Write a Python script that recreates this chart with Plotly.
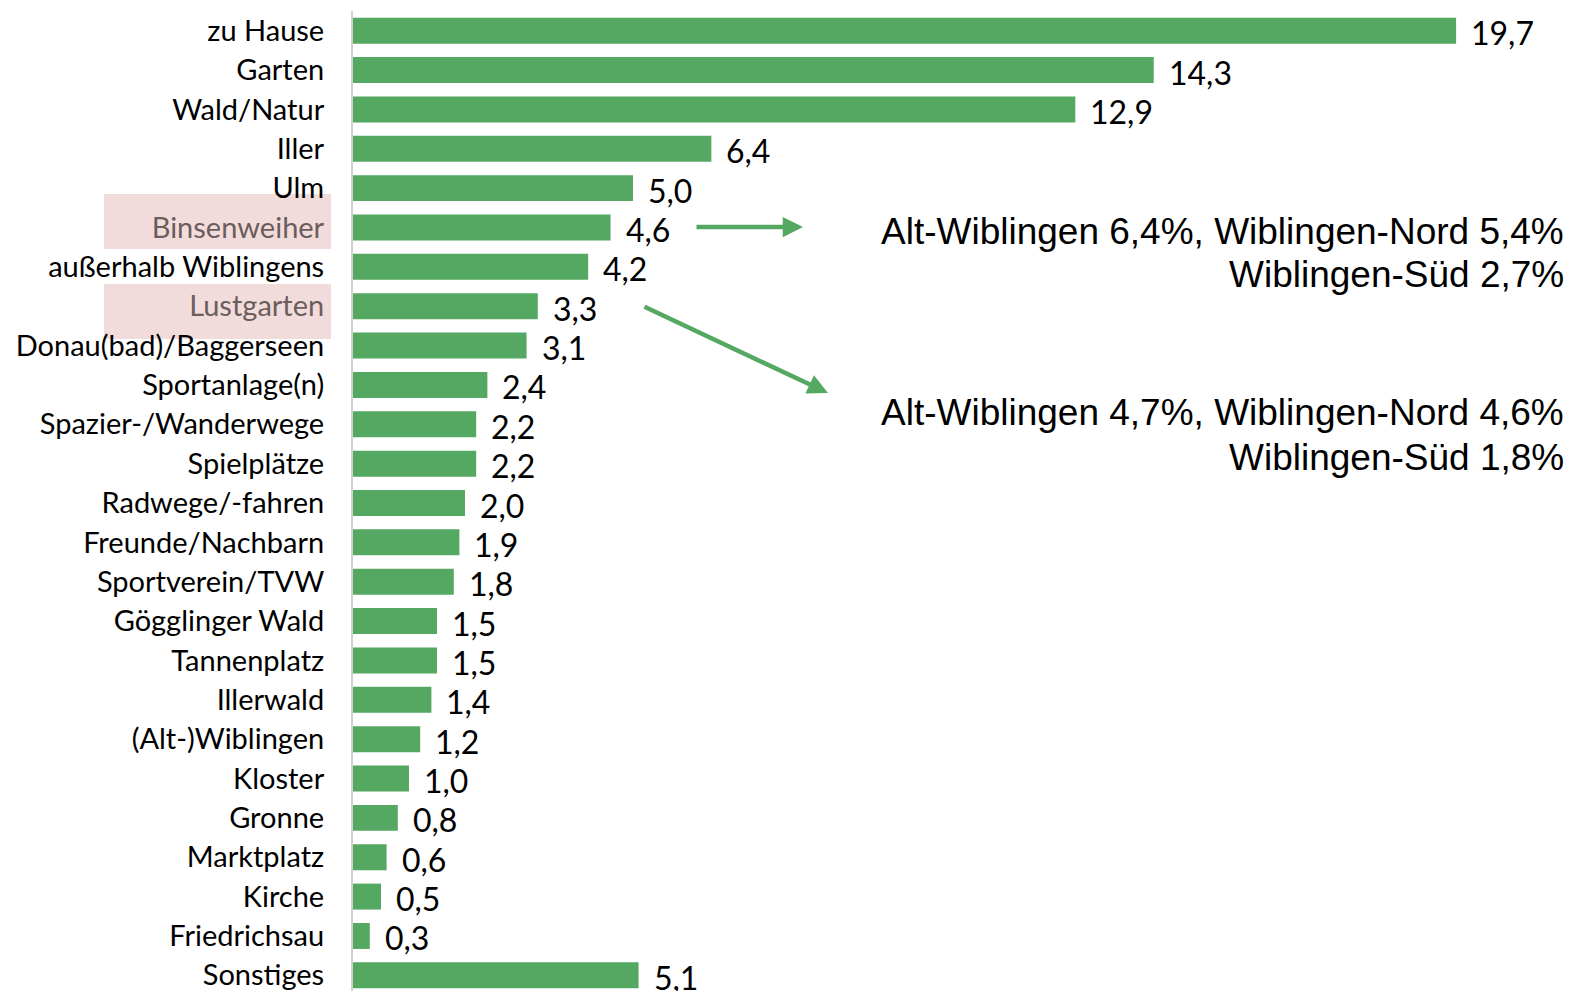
import plotly.graph_objects as go

categories = ["zu Hause", "Garten", "Wald/Natur", "Iller", "Ulm", "Binsenweiher",
              "außerhalb Wiblingens", "Lustgarten", "Donau(bad)/Baggerseen", "Sportanlage(n)",
              "Spazier-/Wanderwege", "Spielplätze", "Radwege/-fahren", "Freunde/Nachbarn",
              "Sportverein/TVW", "Gögglinger Wald", "Tannenplatz", "Illerwald", "(Alt-)Wiblingen",
              "Kloster", "Gronne", "Marktplatz", "Kirche", "Friedrichsau", "Sonstiges"]
values = [19.7, 14.3, 12.9, 6.4, 5.0, 4.6, 4.2, 3.3, 3.1, 2.4, 2.2, 2.2, 2.0, 1.9, 1.8,
          1.5, 1.5, 1.4, 1.2, 1.0, 0.8, 0.6, 0.5, 0.3, 5.1]
highlighted = ["Binsenweiher", "Lustgarten"]
note_binsen = ["Alt-Wiblingen 6,4%, Wiblingen-Nord 5,4%", "Wiblingen-Süd 2,7%"]
note_lust = ["Alt-Wiblingen 4,7%, Wiblingen-Nord 4,6%", "Wiblingen-Süd 1,8%"]

GREEN = "#55A861"
W, H = 1572, 995
ML, MT, MB, MR = 353, 11, 0, 0
PW, PH = W - ML - MR, H - MT - MB
XMAX = 21.77


def px(xp):
    return (xp - ML) / PW


def py(yp):
    return 1 - (yp - MT) / PH


labels = [f"{v:.1f}".replace(".", ",") for v in values]
ticktext = [f"<span style='color:#6b5d5d'>{c}</span>" if c in highlighted else c
            for c in categories]

fig = go.Figure()
fig.add_trace(go.Bar(
    x=values, y=categories, orientation="h",
    marker=dict(color=GREEN, line=dict(width=0)),
    width=0.66, hoverinfo="skip",
))

for c, v, t in zip(categories, values, labels):
    fig.add_annotation(x=v, y=c, xref="x", yref="y", text=t, showarrow=False,
                       xanchor="left", yanchor="middle", xshift=13, yshift=-2,
                       font=dict(family="Lato", size=32, color="#000000"))

# highlight boxes behind labels
for (y0, y1) in [(194, 249), (284, 339)]:
    fig.add_shape(type="rect", xref="paper", yref="paper",
                  x0=px(104), x1=px(331), y0=py(y1), y1=py(y0),
                  fillcolor="#F2DCDB", line=dict(width=0), layer="below")

# arrows
for (tx, ty, hx, hy) in [(695, 227, 803, 227), (643, 306, 828, 393)]:
    fig.add_annotation(x=px(hx), y=py(hy), xref="paper", yref="paper",
                       ax=tx - hx, ay=ty - hy, axref="pixel", ayref="pixel",
                       text="", showarrow=True, arrowhead=2, arrowsize=0.9,
                       arrowwidth=4.5, arrowcolor=GREEN, standoff=0, startstandoff=0)

# notes
for lines, ys in [(note_binsen, (231, 274)), (note_lust, (413, 457))]:
    for line, yy in zip(lines, ys):
        fig.add_annotation(x=px(1566), y=py(yy), xref="paper", yref="paper",
                           text=line, showarrow=False, xanchor="right", yanchor="middle",
                           font=dict(family="Liberation Sans, Arial", size=37, color="#000000"))

fig.update_layout(
    width=W, height=H,
    margin=dict(l=ML, r=MR, t=MT, b=MB, pad=0),
    plot_bgcolor="white", paper_bgcolor="white",
    showlegend=False, bargap=0.34,
    xaxis=dict(range=[0, XMAX], visible=False, showgrid=False, zeroline=False,
               automargin=False),
    yaxis=dict(categoryorder="array", categoryarray=categories,
               range=[len(categories) - 0.5, -0.5],
               tickvals=categories, ticktext=ticktext, ticks="", showgrid=False,
               showline=True, linecolor="#D0D0D0", linewidth=2, zeroline=False,
               ticklabelstandoff=21, automargin=False,
               tickfont=dict(family="Lato", size=29, color="#000000")),
)

fig.write_html("out.html", config={"displayModeBar": False},
               post_script="document.body.style.margin='0';document.body.style.overflow='hidden';")
